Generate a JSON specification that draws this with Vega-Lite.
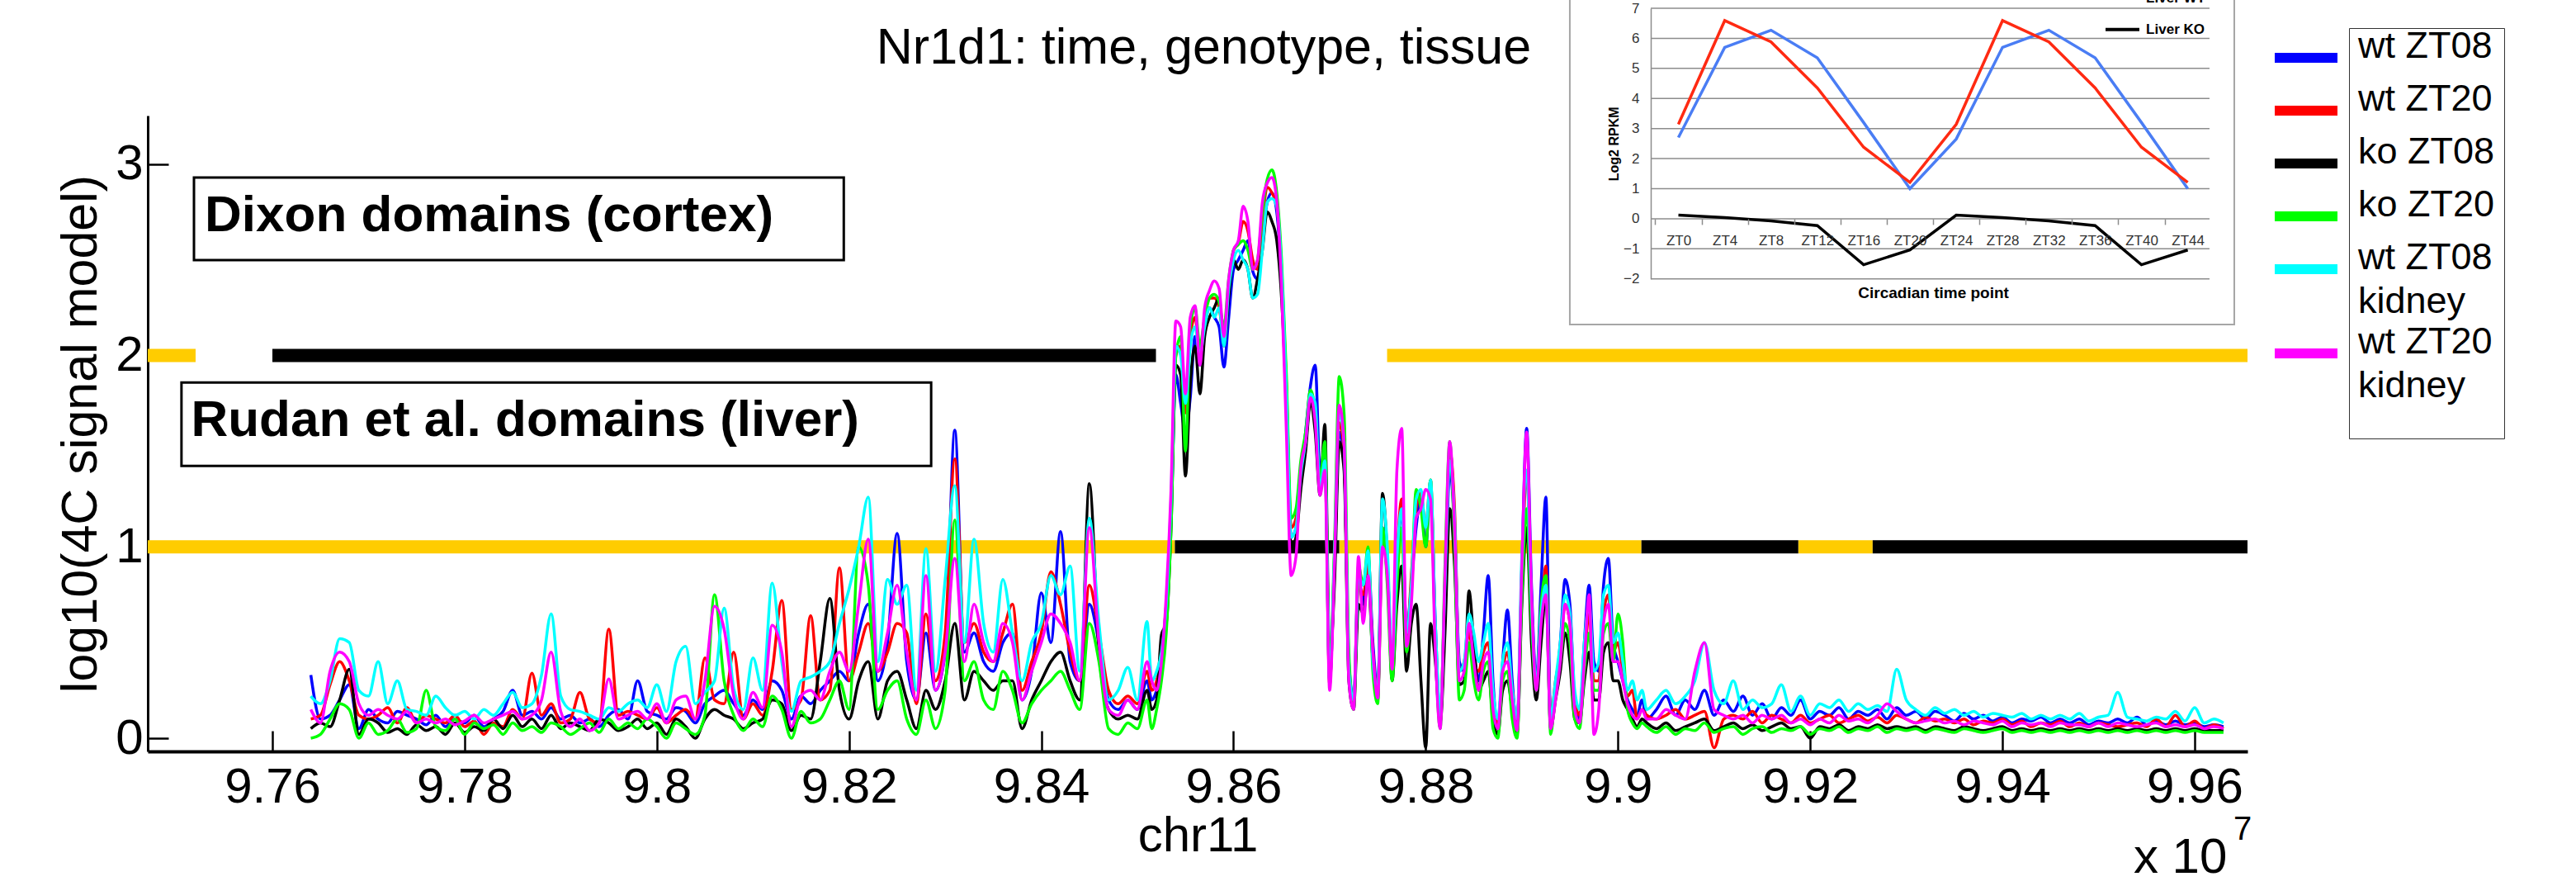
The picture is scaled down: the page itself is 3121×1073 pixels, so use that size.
{
"$schema": "https://vega.github.io/schema/vega-lite/v6.json",
"width": 2544, "height": 770,
"autosize": {"type": "none"},
"padding": {"left": 179, "top": 140, "right": 398, "bottom": 163},
"background": "white",
"config": {"view": {"stroke": null}, "font": "Liberation Sans",
  "axis": {"labelFont": "Liberation Sans", "titleFont": "Liberation Sans", "labelColor": "black", "titleColor": "black", "domainColor": "black", "tickColor": "black"}},
"datasets": {
"names": [{"key":"b","name":"wt ZT08"},{"key":"r","name":"wt ZT20"},{"key":"k","name":"ko ZT08"},{"key":"g","name":"ko ZT20"},{"key":"c","name":"wt ZT08 kidney"},{"key":"m","name":"wt ZT20 kidney"}],
"domains": [
 {"track":"Dixon","lvl":2,"start":97470.3,"end":97520.1,"kind":"inter"},
 {"track":"Dixon","lvl":2,"start":97600.0,"end":98519.3,"kind":"domain"},
 {"track":"Dixon","lvl":2,"start":98759.8,"end":99655.0,"kind":"inter"},
 {"track":"Rudan","lvl":1,"start":97470.3,"end":98539.0,"kind":"inter"},
 {"track":"Rudan","lvl":1,"start":98539.0,"end":98710.0,"kind":"domain"},
 {"track":"Rudan","lvl":1,"start":98710.0,"end":99024.4,"kind":"inter"},
 {"track":"Rudan","lvl":1,"start":99024.4,"end":99187.6,"kind":"domain"},
 {"track":"Rudan","lvl":1,"start":99187.6,"end":99265.0,"kind":"inter"},
 {"track":"Rudan","lvl":1,"start":99265.0,"end":99655.0,"kind":"domain"}],
"grid": [{"v":-2},{"v":-1},{"v":0},{"v":1},{"v":2},{"v":3},{"v":4},{"v":5},{"v":6},{"v":7}],
"rna": [
 {"h":0,"s":"Liver WT A","v":2.70},{"h":4,"s":"Liver WT A","v":5.70},{"h":8,"s":"Liver WT A","v":6.27},{"h":12,"s":"Liver WT A","v":5.35},{"h":16,"s":"Liver WT A","v":3.20},{"h":20,"s":"Liver WT A","v":1.00},
 {"h":24,"s":"Liver WT A","v":2.65},{"h":28,"s":"Liver WT A","v":5.70},{"h":32,"s":"Liver WT A","v":6.27},{"h":36,"s":"Liver WT A","v":5.35},{"h":40,"s":"Liver WT A","v":3.20},{"h":44,"s":"Liver WT A","v":1.00},
 {"h":0,"s":"Liver WT B","v":3.14},{"h":4,"s":"Liver WT B","v":6.59},{"h":8,"s":"Liver WT B","v":5.88},{"h":12,"s":"Liver WT B","v":4.35},{"h":16,"s":"Liver WT B","v":2.38},{"h":20,"s":"Liver WT B","v":1.21},
 {"h":24,"s":"Liver WT B","v":3.14},{"h":28,"s":"Liver WT B","v":6.59},{"h":32,"s":"Liver WT B","v":5.88},{"h":36,"s":"Liver WT B","v":4.35},{"h":40,"s":"Liver WT B","v":2.38},{"h":44,"s":"Liver WT B","v":1.21},
 {"h":0,"s":"Liver KO","v":0.12},{"h":4,"s":"Liver KO","v":0.04},{"h":8,"s":"Liver KO","v":-0.07},{"h":12,"s":"Liver KO","v":-0.23},{"h":16,"s":"Liver KO","v":-1.53},{"h":20,"s":"Liver KO","v":-1.04},
 {"h":24,"s":"Liver KO","v":0.12},{"h":28,"s":"Liver KO","v":0.04},{"h":32,"s":"Liver KO","v":-0.07},{"h":36,"s":"Liver KO","v":-0.23},{"h":40,"s":"Liver KO","v":-1.53},{"h":44,"s":"Liver KO","v":-1.04}],
"signal": [
{"x":97640,"b":0.33,"r":0.10,"k":0.05,"g":0.00,"c":0.22,"m":0.15},
{"x":97650,"b":0.10,"r":0.12,"k":0.08,"g":0.02,"c":0.18,"m":0.08},
{"x":97660,"b":0.12,"r":0.28,"k":0.06,"g":0.10,"c":0.30,"m":0.35},
{"x":97670,"b":0.20,"r":0.40,"k":0.20,"g":0.18,"c":0.52,"m":0.45},
{"x":97680,"b":0.28,"r":0.30,"k":0.36,"g":0.15,"c":0.50,"m":0.40},
{"x":97690,"b":0.05,"r":0.12,"k":0.02,"g":0.00,"c":0.25,"m":0.18},
{"x":97700,"b":0.15,"r":0.10,"k":0.10,"g":0.08,"c":0.22,"m":0.12},
{"x":97710,"b":0.10,"r":0.12,"k":0.08,"g":0.02,"c":0.40,"m":0.15},
{"x":97720,"b":0.08,"r":0.16,"k":0.03,"g":0.04,"c":0.18,"m":0.12},
{"x":97730,"b":0.14,"r":0.08,"k":0.05,"g":0.10,"c":0.30,"m":0.10},
{"x":97740,"b":0.12,"r":0.16,"k":0.02,"g":0.03,"c":0.15,"m":0.14},
{"x":97750,"b":0.10,"r":0.08,"k":0.07,"g":0.05,"c":0.14,"m":0.08},
{"x":97760,"b":0.07,"r":0.12,"k":0.04,"g":0.25,"c":0.12,"m":0.10},
{"x":97770,"b":0.12,"r":0.10,"k":0.06,"g":0.06,"c":0.22,"m":0.08},
{"x":97780,"b":0.06,"r":0.08,"k":0.02,"g":0.04,"c":0.16,"m":0.10},
{"x":97790,"b":0.10,"r":0.12,"k":0.08,"g":0.10,"c":0.12,"m":0.07},
{"x":97800,"b":0.08,"r":0.06,"k":0.03,"g":0.02,"c":0.14,"m":0.09},
{"x":97810,"b":0.12,"r":0.09,"k":0.06,"g":0.08,"c":0.10,"m":0.12},
{"x":97820,"b":0.06,"r":0.02,"k":0.04,"g":0.05,"c":0.15,"m":0.08},
{"x":97830,"b":0.10,"r":0.08,"k":0.10,"g":0.07,"c":0.12,"m":0.10},
{"x":97840,"b":0.14,"r":0.06,"k":0.05,"g":0.02,"c":0.18,"m":0.12},
{"x":97850,"b":0.25,"r":0.15,"k":0.12,"g":0.08,"c":0.24,"m":0.14},
{"x":97860,"b":0.12,"r":0.10,"k":0.06,"g":0.04,"c":0.16,"m":0.10},
{"x":97870,"b":0.14,"r":0.34,"k":0.10,"g":0.06,"c":0.18,"m":0.12},
{"x":97880,"b":0.10,"r":0.12,"k":0.05,"g":0.03,"c":0.33,"m":0.20},
{"x":97890,"b":0.16,"r":0.18,"k":0.12,"g":0.08,"c":0.65,"m":0.45},
{"x":97900,"b":0.10,"r":0.08,"k":0.05,"g":0.06,"c":0.22,"m":0.14},
{"x":97910,"b":0.12,"r":0.10,"k":0.08,"g":0.02,"c":0.15,"m":0.06},
{"x":97920,"b":0.08,"r":0.24,"k":0.06,"g":0.05,"c":0.14,"m":0.10},
{"x":97930,"b":0.10,"r":0.10,"k":0.04,"g":0.08,"c":0.12,"m":0.04},
{"x":97940,"b":0.06,"r":0.08,"k":0.10,"g":0.03,"c":0.10,"m":0.08},
{"x":97950,"b":0.12,"r":0.57,"k":0.08,"g":0.10,"c":0.16,"m":0.31},
{"x":97960,"b":0.15,"r":0.12,"k":0.04,"g":0.05,"c":0.14,"m":0.10},
{"x":97970,"b":0.10,"r":0.14,"k":0.06,"g":0.08,"c":0.18,"m":0.12},
{"x":97980,"b":0.30,"r":0.12,"k":0.10,"g":0.05,"c":0.20,"m":0.14},
{"x":97990,"b":0.14,"r":0.10,"k":0.05,"g":0.10,"c":0.16,"m":0.10},
{"x":98000,"b":0.12,"r":0.16,"k":0.08,"g":0.06,"c":0.28,"m":0.18},
{"x":98010,"b":0.10,"r":0.08,"k":0.02,"g":0.00,"c":0.14,"m":0.08},
{"x":98020,"b":0.16,"r":0.12,"k":0.10,"g":0.08,"c":0.40,"m":0.20},
{"x":98030,"b":0.14,"r":0.15,"k":0.06,"g":0.05,"c":0.48,"m":0.22},
{"x":98040,"b":0.08,"r":0.10,"k":0.00,"g":0.02,"c":0.18,"m":0.10},
{"x":98050,"b":0.18,"r":0.42,"k":0.10,"g":0.12,"c":0.24,"m":0.30},
{"x":98060,"b":0.22,"r":0.20,"k":0.15,"g":0.75,"c":0.30,"m":0.69},
{"x":98070,"b":0.25,"r":0.18,"k":0.12,"g":0.30,"c":0.68,"m":0.57},
{"x":98080,"b":0.18,"r":0.45,"k":0.10,"g":0.12,"c":0.26,"m":0.22},
{"x":98090,"b":0.12,"r":0.10,"k":0.05,"g":0.04,"c":0.15,"m":0.10},
{"x":98100,"b":0.20,"r":0.18,"k":0.08,"g":0.10,"c":0.42,"m":0.24},
{"x":98110,"b":0.15,"r":0.12,"k":0.10,"g":0.06,"c":0.25,"m":0.16},
{"x":98120,"b":0.30,"r":0.35,"k":0.20,"g":0.22,"c":0.81,"m":0.59},
{"x":98130,"b":0.25,"r":0.72,"k":0.18,"g":0.15,"c":0.40,"m":0.45},
{"x":98140,"b":0.10,"r":0.15,"k":0.04,"g":0.00,"c":0.14,"m":0.06},
{"x":98150,"b":0.22,"r":0.20,"k":0.12,"g":0.14,"c":0.30,"m":0.22},
{"x":98160,"b":0.18,"r":0.64,"k":0.10,"g":0.08,"c":0.32,"m":0.25},
{"x":98170,"b":0.25,"r":0.20,"k":0.40,"g":0.10,"c":0.35,"m":0.20},
{"x":98180,"b":0.30,"r":0.25,"k":0.73,"g":0.20,"c":0.40,"m":0.35},
{"x":98190,"b":0.35,"r":0.89,"k":0.25,"g":0.30,"c":0.60,"m":0.45},
{"x":98200,"b":0.30,"r":0.30,"k":0.10,"g":0.15,"c":0.78,"m":0.35},
{"x":98210,"b":0.55,"r":0.45,"k":0.30,"g":1.00,"c":1.00,"m":0.70},
{"x":98220,"b":0.70,"r":0.60,"k":0.40,"g":0.80,"c":1.26,"m":1.04},
{"x":98230,"b":0.30,"r":0.35,"k":0.10,"g":0.15,"c":0.40,"m":0.35},
{"x":98240,"b":0.50,"r":0.45,"k":0.30,"g":0.25,"c":0.83,"m":0.55},
{"x":98250,"b":1.07,"r":0.60,"k":0.35,"g":0.30,"c":0.70,"m":0.80},
{"x":98260,"b":0.40,"r":0.55,"k":0.20,"g":0.10,"c":0.80,"m":0.45},
{"x":98270,"b":0.20,"r":0.18,"k":0.05,"g":0.02,"c":0.25,"m":0.20},
{"x":98280,"b":0.55,"r":0.65,"k":0.25,"g":0.20,"c":0.99,"m":0.85},
{"x":98290,"b":0.25,"r":0.30,"k":0.15,"g":0.05,"c":0.35,"m":0.25},
{"x":98300,"b":0.45,"r":0.55,"k":0.30,"g":0.25,"c":0.83,"m":0.45},
{"x":98310,"b":1.61,"r":1.46,"k":0.60,"g":1.14,"c":1.32,"m":0.94},
{"x":98320,"b":0.45,"r":0.50,"k":0.20,"g":0.30,"c":0.50,"m":0.40},
{"x":98330,"b":0.55,"r":0.60,"k":0.35,"g":0.40,"c":1.04,"m":0.70},
{"x":98340,"b":0.40,"r":0.45,"k":0.30,"g":0.20,"c":0.60,"m":0.50},
{"x":98350,"b":0.35,"r":0.40,"k":0.25,"g":0.15,"c":0.45,"m":0.40},
{"x":98360,"b":0.50,"r":0.55,"k":0.30,"g":0.35,"c":0.83,"m":0.60},
{"x":98370,"b":0.55,"r":0.70,"k":0.30,"g":0.25,"c":0.55,"m":0.50},
{"x":98380,"b":0.20,"r":0.25,"k":0.05,"g":0.08,"c":0.30,"m":0.20},
{"x":98390,"b":0.35,"r":0.40,"k":0.20,"g":0.18,"c":0.50,"m":0.35},
{"x":98400,"b":0.76,"r":0.55,"k":0.30,"g":0.25,"c":0.60,"m":0.50},
{"x":98410,"b":0.50,"r":0.87,"k":0.40,"g":0.30,"c":0.85,"m":0.65},
{"x":98420,"b":1.08,"r":0.70,"k":0.45,"g":0.35,"c":0.75,"m":0.60},
{"x":98430,"b":0.40,"r":0.45,"k":0.30,"g":0.25,"c":0.90,"m":0.50},
{"x":98440,"b":0.30,"r":0.30,"k":0.20,"g":0.15,"c":0.35,"m":0.30},
{"x":98450,"b":0.70,"r":0.80,"k":1.33,"g":0.60,"c":1.15,"m":1.10},
{"x":98460,"b":0.50,"r":0.55,"k":0.45,"g":0.40,"c":0.60,"m":0.50},
{"x":98470,"b":0.20,"r":0.25,"k":0.15,"g":0.05,"c":0.20,"m":0.15},
{"x":98480,"b":0.15,"r":0.18,"k":0.10,"g":0.02,"c":0.25,"m":0.12},
{"x":98490,"b":0.20,"r":0.22,"k":0.12,"g":0.08,"c":0.37,"m":0.20},
{"x":98500,"b":0.15,"r":0.18,"k":0.10,"g":0.05,"c":0.20,"m":0.15},
{"x":98510,"b":0.30,"r":0.35,"k":0.25,"g":0.20,"c":0.61,"m":0.40},
{"x":98515,"b":0.20,"r":0.25,"k":0.15,"g":0.05,"c":0.30,"m":0.30},
{"x":98520,"b":0.25,"r":0.30,"k":0.20,"g":0.15,"c":0.35,"m":0.25},
{"x":98525,"b":0.35,"r":0.45,"k":0.54,"g":0.30,"c":0.45,"m":0.40},
{"x":98530,"b":0.60,"r":0.70,"k":0.60,"g":0.55,"c":0.70,"m":0.75},
{"x":98535,"b":1.15,"r":1.20,"k":1.10,"g":1.10,"c":1.25,"m":1.30},
{"x":98540,"b":1.90,"r":2.00,"k":1.95,"g":2.00,"c":2.05,"m":2.18},
{"x":98545,"b":1.75,"r":2.05,"k":1.90,"g":2.10,"c":2.00,"m":2.15},
{"x":98550,"b":1.60,"r":1.70,"k":1.37,"g":1.50,"c":1.75,"m":1.80},
{"x":98555,"b":1.78,"r":2.10,"k":1.85,"g":2.15,"c":2.05,"m":2.20},
{"x":98560,"b":2.10,"r":2.20,"k":2.05,"g":2.25,"c":2.15,"m":2.26},
{"x":98565,"b":1.95,"r":2.00,"k":1.80,"g":2.05,"c":2.00,"m":1.95},
{"x":98570,"b":2.15,"r":2.20,"k":2.10,"g":2.20,"c":2.15,"m":2.25},
{"x":98575,"b":2.25,"r":2.30,"k":2.20,"g":2.30,"c":2.25,"m":2.34},
{"x":98580,"b":2.20,"r":2.30,"k":2.25,"g":2.32,"c":2.20,"m":2.39},
{"x":98585,"b":2.15,"r":2.25,"k":2.30,"g":2.28,"c":2.25,"m":2.35},
{"x":98590,"b":1.94,"r":2.10,"k":2.05,"g":2.15,"c":2.05,"m":2.10},
{"x":98595,"b":2.20,"r":2.35,"k":2.30,"g":2.40,"c":2.35,"m":2.40},
{"x":98600,"b":2.45,"r":2.55,"k":2.50,"g":2.55,"c":2.50,"m":2.55},
{"x":98605,"b":2.50,"r":2.59,"k":2.45,"g":2.58,"c":2.55,"m":2.60},
{"x":98610,"b":2.55,"r":2.70,"k":2.50,"g":2.60,"c":2.50,"m":2.78},
{"x":98615,"b":2.60,"r":2.65,"k":2.45,"g":2.55,"c":2.45,"m":2.70},
{"x":98620,"b":2.44,"r":2.50,"k":2.30,"g":2.45,"c":2.30,"m":2.45},
{"x":98625,"b":2.40,"r":2.45,"k":2.40,"g":2.50,"c":2.32,"m":2.50},
{"x":98630,"b":2.60,"r":2.70,"k":2.55,"g":2.75,"c":2.55,"m":2.80},
{"x":98635,"b":2.80,"r":2.88,"k":2.75,"g":2.92,"c":2.80,"m":2.90},
{"x":98640,"b":2.85,"r":2.85,"k":2.70,"g":2.97,"c":2.82,"m":2.93},
{"x":98645,"b":2.75,"r":2.78,"k":2.60,"g":2.85,"c":2.78,"m":2.81},
{"x":98650,"b":2.40,"r":2.45,"k":2.30,"g":2.50,"c":2.45,"m":2.35},
{"x":98655,"b":1.80,"r":1.85,"k":1.75,"g":1.90,"c":1.80,"m":1.60},
{"x":98660,"b":1.05,"r":1.10,"k":1.00,"g":1.15,"c":1.05,"m":0.85},
{"x":98665,"b":1.10,"r":1.15,"k":1.05,"g":1.20,"c":1.10,"m":0.95},
{"x":98670,"b":1.35,"r":1.40,"k":1.30,"g":1.45,"c":1.38,"m":1.41},
{"x":98675,"b":1.60,"r":1.55,"k":1.50,"g":1.60,"c":1.55,"m":1.55},
{"x":98680,"b":1.84,"r":1.80,"k":1.75,"g":1.82,"c":1.80,"m":1.78},
{"x":98685,"b":1.95,"r":1.70,"k":1.60,"g":1.70,"c":1.75,"m":1.65},
{"x":98690,"b":1.40,"r":1.30,"k":1.27,"g":1.35,"c":1.30,"m":1.27},
{"x":98695,"b":1.50,"r":1.45,"k":1.64,"g":1.55,"c":1.45,"m":1.40},
{"x":98700,"b":0.30,"r":0.28,"k":0.40,"g":0.35,"c":0.30,"m":0.25},
{"x":98705,"b":0.90,"r":0.95,"k":0.80,"g":1.00,"c":0.95,"m":0.90},
{"x":98710,"b":1.60,"r":1.65,"k":1.55,"g":1.89,"c":1.70,"m":1.74},
{"x":98715,"b":1.45,"r":1.50,"k":1.40,"g":1.70,"c":1.55,"m":1.55},
{"x":98720,"b":0.40,"r":0.35,"k":0.30,"g":0.45,"c":0.35,"m":0.30},
{"x":98725,"b":0.20,"r":0.18,"k":0.15,"g":0.15,"c":0.20,"m":0.15},
{"x":98730,"b":0.85,"r":0.80,"k":0.70,"g":0.90,"c":0.85,"m":0.95},
{"x":98735,"b":0.70,"r":0.75,"k":0.65,"g":0.80,"c":0.80,"m":0.60},
{"x":98740,"b":0.95,"r":0.90,"k":0.85,"g":1.00,"c":0.98,"m":0.85},
{"x":98745,"b":0.50,"r":0.45,"k":0.40,"g":0.35,"c":0.40,"m":0.45},
{"x":98750,"b":0.25,"r":0.22,"k":0.20,"g":0.18,"c":0.25,"m":0.21},
{"x":98755,"b":1.10,"r":1.05,"k":1.28,"g":1.10,"c":1.25,"m":1.00},
{"x":98760,"b":0.90,"r":0.85,"k":0.95,"g":0.80,"c":1.00,"m":0.85},
{"x":98765,"b":0.40,"r":0.38,"k":0.30,"g":0.30,"c":0.40,"m":0.36},
{"x":98770,"b":0.90,"r":0.95,"k":0.70,"g":0.80,"c":0.95,"m":1.40},
{"x":98775,"b":1.20,"r":1.25,"k":0.90,"g":1.10,"c":1.20,"m":1.62},
{"x":98780,"b":0.55,"r":0.50,"k":0.35,"g":0.45,"c":0.55,"m":0.48},
{"x":98785,"b":0.80,"r":0.85,"k":0.60,"g":0.75,"c":0.80,"m":0.70},
{"x":98790,"b":1.10,"r":1.20,"k":0.70,"g":1.30,"c":1.25,"m":1.15},
{"x":98795,"b":1.25,"r":1.28,"k":0.30,"g":1.20,"c":1.30,"m":1.20},
{"x":98800,"b":1.00,"r":1.10,"k":-0.05,"g":1.00,"c":1.10,"m":1.30},
{"x":98805,"b":1.30,"r":1.35,"k":0.60,"g":1.35,"c":1.35,"m":1.25},
{"x":98810,"b":0.60,"r":0.55,"k":0.40,"g":0.50,"c":0.60,"m":0.45},
{"x":98815,"b":0.10,"r":0.12,"k":0.08,"g":0.05,"c":0.12,"m":0.05},
{"x":98820,"b":0.70,"r":0.80,"k":0.55,"g":0.90,"c":0.80,"m":0.85},
{"x":98825,"b":1.40,"r":1.50,"k":1.20,"g":1.55,"c":1.45,"m":1.55},
{"x":98830,"b":1.10,"r":1.20,"k":0.90,"g":1.00,"c":1.15,"m":1.10},
{"x":98835,"b":0.40,"r":0.35,"k":0.28,"g":0.20,"c":0.35,"m":0.30},
{"x":98840,"b":0.35,"r":0.40,"k":0.30,"g":0.25,"c":0.40,"m":0.35},
{"x":98845,"b":0.60,"r":0.55,"k":0.77,"g":0.50,"c":0.65,"m":0.60},
{"x":98850,"b":0.45,"r":0.40,"k":0.50,"g":0.30,"c":0.55,"m":0.40},
{"x":98855,"b":0.30,"r":0.35,"k":0.25,"g":0.20,"c":0.40,"m":0.25},
{"x":98860,"b":0.55,"r":0.45,"k":0.30,"g":0.35,"c":0.50,"m":0.40},
{"x":98865,"b":0.85,"r":0.50,"k":0.35,"g":0.40,"c":0.60,"m":0.45},
{"x":98870,"b":0.30,"r":0.20,"k":0.10,"g":0.05,"c":0.25,"m":0.15},
{"x":98875,"b":0.05,"r":0.08,"k":0.02,"g":0.00,"c":0.10,"m":0.05},
{"x":98880,"b":0.40,"r":0.35,"k":0.25,"g":0.30,"c":0.40,"m":0.35},
{"x":98885,"b":0.67,"r":0.45,"k":0.30,"g":0.35,"c":0.50,"m":0.40},
{"x":98890,"b":0.30,"r":0.25,"k":0.15,"g":0.10,"c":0.25,"m":0.20},
{"x":98895,"b":0.05,"r":0.08,"k":0.02,"g":0.00,"c":0.10,"m":0.04},
{"x":98900,"b":0.90,"r":0.85,"k":0.70,"g":0.75,"c":0.95,"m":0.90},
{"x":98905,"b":1.62,"r":1.40,"k":1.10,"g":1.20,"c":1.40,"m":1.60},
{"x":98910,"b":0.80,"r":0.70,"k":0.50,"g":0.60,"c":0.70,"m":0.75},
{"x":98915,"b":0.30,"r":0.25,"k":0.20,"g":0.25,"c":0.28,"m":0.25},
{"x":98920,"b":0.80,"r":0.60,"k":0.50,"g":0.70,"c":0.65,"m":0.60},
{"x":98925,"b":1.26,"r":0.90,"k":0.75,"g":0.85,"c":0.80,"m":0.75},
{"x":98930,"b":0.10,"r":0.10,"k":0.05,"g":0.02,"c":0.10,"m":0.05},
{"x":98935,"b":0.25,"r":0.30,"k":0.20,"g":0.25,"c":0.30,"m":0.20},
{"x":98940,"b":0.50,"r":0.45,"k":0.35,"g":0.40,"c":0.50,"m":0.40},
{"x":98945,"b":0.83,"r":0.70,"k":0.55,"g":0.60,"c":0.75,"m":0.70},
{"x":98950,"b":0.70,"r":0.60,"k":0.40,"g":0.50,"c":0.65,"m":0.60},
{"x":98955,"b":0.20,"r":0.20,"k":0.10,"g":0.10,"c":0.25,"m":0.15},
{"x":98960,"b":0.10,"r":0.12,"k":0.08,"g":0.05,"c":0.15,"m":0.08},
{"x":98965,"b":0.50,"r":0.40,"k":0.30,"g":0.35,"c":0.50,"m":0.40},
{"x":98970,"b":0.80,"r":0.65,"k":0.45,"g":0.55,"c":0.70,"m":0.75},
{"x":98975,"b":0.40,"r":0.30,"k":0.20,"g":0.25,"c":0.35,"m":0.02},
{"x":98980,"b":0.35,"r":0.30,"k":0.20,"g":0.25,"c":0.40,"m":0.15},
{"x":98985,"b":0.80,"r":0.65,"k":0.45,"g":0.55,"c":0.75,"m":0.60},
{"x":98990,"b":0.94,"r":0.75,"k":0.50,"g":0.60,"c":0.80,"m":0.70},
{"x":98995,"b":0.50,"r":0.45,"k":0.30,"g":0.40,"c":0.50,"m":0.40},
{"x":99000,"b":0.40,"r":0.50,"k":0.30,"g":0.65,"c":0.55,"m":0.40},
{"x":99005,"b":0.30,"r":0.35,"k":0.20,"g":0.50,"c":0.40,"m":0.30},
{"x":99010,"b":0.20,"r":0.22,"k":0.15,"g":0.15,"c":0.25,"m":0.18},
{"x":99015,"b":0.15,"r":0.25,"k":0.10,"g":0.08,"c":0.30,"m":0.12},
{"x":99020,"b":0.12,"r":0.10,"k":0.06,"g":0.05,"c":0.20,"m":0.10},
{"x":99025,"b":0.20,"r":0.15,"k":0.10,"g":0.08,"c":0.25,"m":0.15},
{"x":99030,"b":0.10,"r":0.12,"k":0.08,"g":0.06,"c":0.15,"m":0.10},
{"x":99040,"b":0.15,"r":0.10,"k":0.05,"g":0.03,"c":0.20,"m":0.10},
{"x":99050,"b":0.22,"r":0.12,"k":0.08,"g":0.06,"c":0.25,"m":0.15},
{"x":99060,"b":0.12,"r":0.15,"k":0.04,"g":0.02,"c":0.18,"m":0.12},
{"x":99070,"b":0.20,"r":0.10,"k":0.06,"g":0.05,"c":0.22,"m":0.10},
{"x":99080,"b":0.15,"r":0.12,"k":0.08,"g":0.04,"c":0.30,"m":0.35},
{"x":99090,"b":0.25,"r":0.14,"k":0.10,"g":0.08,"c":0.50,"m":0.50},
{"x":99100,"b":0.12,"r":-0.05,"k":0.04,"g":0.03,"c":0.25,"m":0.15},
{"x":99110,"b":0.20,"r":0.10,"k":0.06,"g":0.05,"c":0.18,"m":0.12},
{"x":99120,"b":0.14,"r":0.12,"k":0.08,"g":0.06,"c":0.30,"m":0.10},
{"x":99130,"b":0.22,"r":0.10,"k":0.05,"g":0.02,"c":0.15,"m":0.12},
{"x":99140,"b":0.12,"r":0.14,"k":0.07,"g":0.05,"c":0.20,"m":0.08},
{"x":99150,"b":0.18,"r":0.08,"k":0.04,"g":0.06,"c":0.16,"m":0.12},
{"x":99160,"b":0.10,"r":0.12,"k":0.06,"g":0.03,"c":0.18,"m":0.10},
{"x":99170,"b":0.16,"r":0.10,"k":0.08,"g":0.05,"c":0.28,"m":0.12},
{"x":99180,"b":0.12,"r":0.08,"k":0.05,"g":0.04,"c":0.14,"m":0.08},
{"x":99190,"b":0.20,"r":0.12,"k":0.06,"g":0.06,"c":0.22,"m":0.10},
{"x":99200,"b":0.10,"r":0.08,"k":0.00,"g":0.02,"c":0.12,"m":0.07},
{"x":99210,"b":0.14,"r":0.10,"k":0.06,"g":0.05,"c":0.18,"m":0.10},
{"x":99220,"b":0.12,"r":0.12,"k":0.05,"g":0.04,"c":0.16,"m":0.08},
{"x":99230,"b":0.16,"r":0.08,"k":0.07,"g":0.06,"c":0.20,"m":0.12},
{"x":99240,"b":0.10,"r":0.10,"k":0.04,"g":0.03,"c":0.14,"m":0.09},
{"x":99250,"b":0.14,"r":0.12,"k":0.06,"g":0.05,"c":0.18,"m":0.10},
{"x":99260,"b":0.12,"r":0.09,"k":0.05,"g":0.04,"c":0.15,"m":0.08},
{"x":99270,"b":0.15,"r":0.11,"k":0.07,"g":0.06,"c":0.17,"m":0.12},
{"x":99280,"b":0.10,"r":0.08,"k":0.05,"g":0.03,"c":0.14,"m":0.18},
{"x":99290,"b":0.16,"r":0.12,"k":0.06,"g":0.05,"c":0.36,"m":0.14},
{"x":99300,"b":0.12,"r":0.10,"k":0.05,"g":0.04,"c":0.20,"m":0.10},
{"x":99310,"b":0.14,"r":0.08,"k":0.06,"g":0.05,"c":0.15,"m":0.08},
{"x":99320,"b":0.10,"r":0.11,"k":0.04,"g":0.03,"c":0.12,"m":0.09},
{"x":99330,"b":0.14,"r":0.09,"k":0.06,"g":0.05,"c":0.16,"m":0.10},
{"x":99340,"b":0.12,"r":0.10,"k":0.05,"g":0.04,"c":0.13,"m":0.08},
{"x":99350,"b":0.09,"r":0.08,"k":0.04,"g":0.03,"c":0.15,"m":0.09},
{"x":99360,"b":0.13,"r":0.10,"k":0.06,"g":0.05,"c":0.12,"m":0.07},
{"x":99370,"b":0.10,"r":0.07,"k":0.05,"g":0.04,"c":0.14,"m":0.09},
{"x":99380,"b":0.12,"r":0.09,"k":0.04,"g":0.03,"c":0.11,"m":0.08},
{"x":99390,"b":0.09,"r":0.08,"k":0.05,"g":0.04,"c":0.13,"m":0.07},
{"x":99400,"b":0.11,"r":0.10,"k":0.06,"g":0.05,"c":0.12,"m":0.09},
{"x":99410,"b":0.08,"r":0.07,"k":0.04,"g":0.03,"c":0.11,"m":0.06},
{"x":99420,"b":0.10,"r":0.09,"k":0.05,"g":0.04,"c":0.13,"m":0.08},
{"x":99430,"b":0.09,"r":0.06,"k":0.04,"g":0.03,"c":0.10,"m":0.07},
{"x":99440,"b":0.11,"r":0.08,"k":0.05,"g":0.04,"c":0.12,"m":0.08},
{"x":99450,"b":0.08,"r":0.07,"k":0.04,"g":0.03,"c":0.10,"m":0.06},
{"x":99460,"b":0.10,"r":0.09,"k":0.05,"g":0.04,"c":0.12,"m":0.08},
{"x":99470,"b":0.08,"r":0.06,"k":0.04,"g":0.03,"c":0.10,"m":0.07},
{"x":99480,"b":0.10,"r":0.08,"k":0.05,"g":0.04,"c":0.13,"m":0.07},
{"x":99490,"b":0.07,"r":0.06,"k":0.04,"g":0.03,"c":0.09,"m":0.06},
{"x":99500,"b":0.09,"r":0.08,"k":0.05,"g":0.04,"c":0.11,"m":0.08},
{"x":99510,"b":0.08,"r":0.07,"k":0.04,"g":0.03,"c":0.12,"m":0.06},
{"x":99520,"b":0.10,"r":0.06,"k":0.05,"g":0.04,"c":0.24,"m":0.08},
{"x":99530,"b":0.08,"r":0.07,"k":0.04,"g":0.03,"c":0.11,"m":0.07},
{"x":99540,"b":0.11,"r":0.08,"k":0.05,"g":0.04,"c":0.10,"m":0.06},
{"x":99550,"b":0.07,"r":0.06,"k":0.04,"g":0.03,"c":0.09,"m":0.07},
{"x":99560,"b":0.09,"r":0.10,"k":0.05,"g":0.04,"c":0.11,"m":0.08},
{"x":99570,"b":0.07,"r":0.06,"k":0.04,"g":0.03,"c":0.10,"m":0.06},
{"x":99580,"b":0.09,"r":0.12,"k":0.05,"g":0.04,"c":0.14,"m":0.07},
{"x":99590,"b":0.07,"r":0.06,"k":0.04,"g":0.03,"c":0.09,"m":0.06},
{"x":99600,"b":0.08,"r":0.09,"k":0.05,"g":0.04,"c":0.16,"m":0.07},
{"x":99610,"b":0.06,"r":0.05,"k":0.04,"g":0.03,"c":0.08,"m":0.05},
{"x":99620,"b":0.07,"r":0.07,"k":0.04,"g":0.03,"c":0.10,"m":0.06},
{"x":99630,"b":0.06,"r":0.05,"k":0.04,"g":0.03,"c":0.08,"m":0.05}
]
},
"layer": [
 {"layer": [
  {"data": {"name": "domains"}, "transform": [{"filter": "datum.kind === 'inter'"}],
   "mark": {"type": "rule", "strokeWidth": 16, "color": "#FFCC00"},
   "encoding": {
     "x": {"field": "start", "type": "quantitative", "scale": {"domain": [97470.3, 99655.0], "nice": false, "zero": false},
       "axis": {"values": [97600, 97800, 98000, 98200, 98400, 98600, 98800, 99000, 99200, 99400, 99600], "labelExpr": "format(datum.value / 10000, '.3~r')", "title": "chr11", "titleFontSize": 60, "titleFontWeight": "normal", "titlePadding": 0, "labelFontSize": 60, "labelPadding": 39, "tickSize": -25, "tickWidth": 2.5, "domainWidth": 4, "grid": false, "labelFlush": false, "labelOverlap": false}},
     "x2": {"field": "end"},
     "y": {"field": "lvl", "type": "quantitative", "scale": {"domain": [-0.069, 3.254], "nice": false, "zero": false},
       "axis": {"values": [0, 1, 2, 3], "format": "d", "title": "log10(4C signal model)", "titleFontSize": 61, "titleFontWeight": "normal", "titlePadding": 10, "labelFontSize": 60, "labelPadding": 31, "tickSize": -25, "tickWidth": 2.5, "domainWidth": 3, "grid": false}}}},
  {"data": {"name": "domains"}, "transform": [{"filter": "datum.kind === 'domain'"}],
   "mark": {"type": "rule", "strokeWidth": 16, "color": "#000000"},
   "encoding": {
     "x": {"field": "start", "type": "quantitative", "scale": {"domain": [97470.3, 99655.0], "nice": false, "zero": false}},
     "x2": {"field": "end"},
     "y": {"field": "lvl", "type": "quantitative", "scale": {"domain": [-0.069, 3.254], "nice": false, "zero": false}}}},
  {"data": {"values": [{}]},
   "mark": {"type": "rect", "fill": "white", "stroke": "black", "strokeWidth": 3},
   "encoding": {
     "x": {"datum": 97518.4, "type": "quantitative", "scale": {"domain": [97470.3, 99655.0], "nice": false, "zero": false}},
     "x2": {"datum": 98194.5},
     "y": {"datum": 2.499, "type": "quantitative", "scale": {"domain": [-0.069, 3.254], "nice": false, "zero": false}},
     "y2": {"datum": 2.93}}},
  {"data": {"values": [{}]},
   "mark": {"type": "rect", "fill": "white", "stroke": "black", "strokeWidth": 3},
   "encoding": {
     "x": {"datum": 97505.4, "type": "quantitative", "scale": {"domain": [97470.3, 99655.0], "nice": false, "zero": false}},
     "x2": {"datum": 98285.4},
     "y": {"datum": 1.423, "type": "quantitative", "scale": {"domain": [-0.069, 3.254], "nice": false, "zero": false}},
     "y2": {"datum": 1.859}}},
  {"data": {"values": [{}]},
   "mark": {"type": "text", "text": "Dixon domains (cortex)", "font": "Liberation Sans", "fontWeight": "bold", "fontSize": 62, "align": "left", "baseline": "alphabetic", "color": "black"},
   "encoding": {
     "x": {"datum": 97529.6, "type": "quantitative", "scale": {"domain": [97470.3, 99655.0], "nice": false, "zero": false}},
     "y": {"datum": 2.65, "type": "quantitative", "scale": {"domain": [-0.069, 3.254], "nice": false, "zero": false}}}},
  {"data": {"values": [{}]},
   "mark": {"type": "text", "text": "Rudan et al. domains (liver)", "font": "Liberation Sans", "fontWeight": "bold", "fontSize": 62, "align": "left", "baseline": "alphabetic", "color": "black"},
   "encoding": {
     "x": {"datum": 97515.3, "type": "quantitative", "scale": {"domain": [97470.3, 99655.0], "nice": false, "zero": false}},
     "y": {"datum": 1.58, "type": "quantitative", "scale": {"domain": [-0.069, 3.254], "nice": false, "zero": false}}}},
  {"data": {"values": [{}]},
   "mark": {"type": "text", "text": "Nr1d1: time, genotype, tissue", "font": "Liberation Sans", "fontSize": 61, "align": "center", "baseline": "alphabetic", "color": "black"},
   "encoding": {
     "x": {"datum": 98569.1, "type": "quantitative", "scale": {"domain": [97470.3, 99655.0], "nice": false, "zero": false}},
     "y": {"datum": 3.526, "type": "quantitative", "scale": {"domain": [-0.069, 3.254], "nice": false, "zero": false}}}},
  {"data": {"name": "signal"},
   "transform": [
     {"fold": ["b", "r", "k", "g", "c", "m"], "as": ["key", "v"]},
     {"lookup": "key", "from": {"data": {"name": "names"}, "key": "key", "fields": ["name"]}}],
   "mark": {"type": "line", "strokeWidth": 3.5, "interpolate": "monotone", "strokeJoin": "round"},
   "encoding": {
     "x": {"field": "x", "type": "quantitative", "scale": {"domain": [97470.3, 99655.0], "nice": false, "zero": false}},
     "y": {"field": "v", "type": "quantitative", "scale": {"domain": [-0.069, 3.254], "nice": false, "zero": false}},
     "color": {"field": "name", "type": "nominal",
       "scale": {"domain": ["wt ZT08", "wt ZT20", "ko ZT08", "ko ZT20", "wt ZT08 kidney", "wt ZT20 kidney"], "range": ["#0000FF", "#FF0000", "#000000", "#00FF00", "#00FFFF", "#FF00FF"]},
       "legend": {"orient": "none", "legendX": 2667, "legendY": -106, "title": "\u00a0", "titleOrient": "bottom", "titleFontSize": 20, "titlePadding": 10, "symbolType": "M-2,0H2", "symbolSize": 1444, "symbolStrokeWidth": 12, "labelFontSize": 45, "labelFont": "Liberation Sans", "labelColor": "black", "labelBaseline": "alphabetic", "labelLimit": 400, "rowPadding": 4, "padding": 11, "strokeColor": "#333333", "symbolOffset": -88, "labelOffset": 38,
         "labelExpr": "indexof(datum.label, ' kidney') > 0 ? [replace(datum.label, ' kidney', '') + ' ', 'kidney'] : datum.label + ' '",
         "encode": {"labels": {"update": {"lineHeight": {"value": 53}}}}}}}},
  {"data": {"values": [{}]},
   "mark": {"type": "text", "text": "x 10", "font": "Liberation Sans", "fontSize": 60, "align": "left", "baseline": "alphabetic", "color": "black"},
   "encoding": {
     "x": {"datum": 99536.4, "type": "quantitative", "scale": {"domain": [97470.3, 99655.0], "nice": false, "zero": false}},
     "y": {"datum": -0.7035, "type": "quantitative", "scale": {"domain": [-0.069, 3.254], "nice": false, "zero": false}}}},
  {"data": {"values": [{}]},
   "mark": {"type": "text", "text": "7", "font": "Liberation Sans", "fontSize": 40, "align": "left", "baseline": "alphabetic", "color": "black"},
   "encoding": {
     "x": {"datum": 99640.4, "type": "quantitative", "scale": {"domain": [97470.3, 99655.0], "nice": false, "zero": false}},
     "y": {"datum": -0.531, "type": "quantitative", "scale": {"domain": [-0.069, 3.254], "nice": false, "zero": false}}}}
 ]},
 {"layer": [
  {"data": {"values": [{}]},
   "mark": {"type": "rect", "fill": "white", "stroke": "#A6A6A6", "strokeWidth": 2},
   "encoding": {
     "x": {"datum": -9.38, "type": "quantitative", "scale": {"domain": [0, 44], "range": [1854.5, 2471.6], "nice": false, "zero": false},
       "axis": {"orient": "bottom", "offset": -645.1, "values": [0, 4, 8, 12, 16, 20, 24, 28, 32, 36, 40, 44, 48], "labelExpr": "datum.value > 44 ? '' : 'ZT' + datum.value", "tickOffset": -28.05, "labelOffset": 28.05, "tickSize": 7, "tickColor": "#8C8C8C", "tickWidth": 1.5, "domain": false, "grid": false, "labelFontSize": 17, "labelColor": "#333333", "labelPadding": 12, "labelFlush": false, "labelOverlap": false, "title": null, "zindex": 1}},
     "x2": {"datum": 48.02},
     "y": {"datum": -3.52, "type": "quantitative", "scale": {"domain": [-2, 7], "range": [197.7, -130], "nice": false, "zero": false},
       "axis": {"orient": "left", "offset": -1821, "values": [-2, -1, 0, 1, 2, 3, 4, 5, 6, 7], "format": "d", "ticks": false, "domainColor": "#8C8C8C", "domainWidth": 1.5, "labelFontSize": 17, "labelColor": "#333333", "labelPadding": 14, "title": "Log2 RPKM", "titleFontSize": 16, "titleFontWeight": "bold", "titleColor": "black", "titlePadding": 3, "grid": false, "zindex": 1}},
     "y2": {"datum": 8.5}}},
  {"data": {"name": "grid"},
   "mark": {"type": "rule", "color": "#8C8C8C", "strokeWidth": 1.5},
   "encoding": {
     "x": {"datum": -2.39, "type": "quantitative", "scale": {"domain": [0, 44], "range": [1854.5, 2471.6], "nice": false, "zero": false}},
     "x2": {"datum": 45.88},
     "y": {"field": "v", "type": "quantitative", "scale": {"domain": [-2, 7], "range": [197.7, -130], "nice": false, "zero": false}}}},
  {"data": {"name": "rna"},
   "mark": {"type": "line", "strokeWidth": 3.5},
   "encoding": {
     "x": {"field": "h", "type": "quantitative", "scale": {"domain": [0, 44], "range": [1854.5, 2471.6], "nice": false, "zero": false}},
     "y": {"field": "v", "type": "quantitative", "scale": {"domain": [-2, 7], "range": [197.7, -130], "nice": false, "zero": false}},
     "color": {"field": "s", "type": "nominal", "scale": {"domain": ["Liver WT A", "Liver WT B", "Liver KO"], "range": ["#4A7DF4", "#FF2A12", "#000000"]}, "legend": null}}},
  {"data": {"values": [{}]},
   "mark": {"type": "rule", "color": "black", "strokeWidth": 4},
   "encoding": {
     "x": {"datum": 36.9, "type": "quantitative", "scale": {"domain": [0, 44], "range": [1854.5, 2471.6], "nice": false, "zero": false}},
     "x2": {"datum": 39.82},
     "y": {"datum": 6.29, "type": "quantitative", "scale": {"domain": [-2, 7], "range": [197.7, -130], "nice": false, "zero": false}}}},
  {"data": {"values": [{}]},
   "mark": {"type": "text", "text": "Liver KO", "font": "Liberation Sans", "fontWeight": "bold", "fontSize": 17, "align": "left", "baseline": "middle", "color": "black"},
   "encoding": {
     "x": {"datum": 40.4, "type": "quantitative", "scale": {"domain": [0, 44], "range": [1854.5, 2471.6], "nice": false, "zero": false}},
     "y": {"datum": 6.29, "type": "quantitative", "scale": {"domain": [-2, 7], "range": [197.7, -130], "nice": false, "zero": false}}}},
  {"data": {"values": [{}]},
   "mark": {"type": "text", "text": "Liver WT", "font": "Liberation Sans", "fontWeight": "bold", "fontSize": 17, "align": "left", "baseline": "alphabetic", "color": "black"},
   "encoding": {
     "x": {"datum": 40.4, "type": "quantitative", "scale": {"domain": [0, 44], "range": [1854.5, 2471.6], "nice": false, "zero": false}},
     "y": {"datum": 7.19, "type": "quantitative", "scale": {"domain": [-2, 7], "range": [197.7, -130], "nice": false, "zero": false}}}},
  {"data": {"values": [{}]},
   "mark": {"type": "text", "text": "Circadian time point", "font": "Liberation Sans", "fontWeight": "bold", "fontSize": 19, "align": "center", "baseline": "middle", "color": "black"},
   "encoding": {
     "x": {"datum": 22.04, "type": "quantitative", "scale": {"domain": [0, 44], "range": [1854.5, 2471.6], "nice": false, "zero": false}},
     "y": {"datum": -2.47, "type": "quantitative", "scale": {"domain": [-2, 7], "range": [197.7, -130], "nice": false, "zero": false}}}}
 ]}
],
"resolve": {"scale": {"x": "independent", "y": "independent", "color": "independent"}, "axis": {"x": "independent", "y": "independent"}, "legend": {"color": "independent"}}
}
